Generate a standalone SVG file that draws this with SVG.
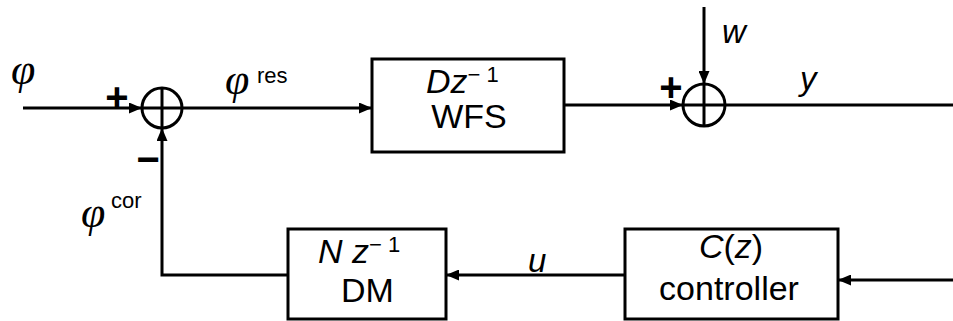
<svg xmlns="http://www.w3.org/2000/svg" width="953" height="321" viewBox="0 0 953 321">
<style>
.ln{fill:none;stroke:#000;stroke-width:3}
.bx{fill:#fff;stroke:#000;stroke-width:3}
.t{font-family:"Liberation Sans",Arial,sans-serif;fill:#000}
.g{font-family:"Liberation Serif","Times New Roman",serif;font-style:italic;fill:#000}
.i{font-style:italic}
.b{font-weight:bold}
</style>
<defs>
<marker id="ah" markerUnits="userSpaceOnUse" markerWidth="13" markerHeight="11" refX="13" refY="5.5" orient="auto">
<path d="M0,0 L13,5.5 L0,11 z" fill="#000"/>
</marker>
</defs>
<rect width="953" height="321" fill="#fff"/>
<g id="connectors">
<line class="ln" x1="23" y1="108" x2="142" y2="108" marker-end="url(#ah)"/>
<line class="ln" x1="182" y1="108" x2="372" y2="108" marker-end="url(#ah)"/>
<line class="ln" x1="564" y1="105" x2="683" y2="105" marker-end="url(#ah)"/>
<line class="ln" x1="704" y1="7" x2="704" y2="84" marker-end="url(#ah)"/>
<line class="ln" x1="725" y1="105" x2="953" y2="105"/>
<line class="ln" x1="953" y1="280" x2="838" y2="280" marker-end="url(#ah)"/>
<line class="ln" x1="625" y1="275" x2="446" y2="275" marker-end="url(#ah)"/>
<polyline class="ln" points="288,275 162,275 162,128" marker-end="url(#ah)"/>
</g>
<g id="sum1">
<circle class="ln" cx="162" cy="108" r="20"/>
<line class="ln" x1="142" y1="108" x2="182" y2="108"/>
<line class="ln" x1="162" y1="88" x2="162" y2="128"/>
</g>
<g id="sum2">
<circle class="ln" cx="704" cy="105" r="21"/>
<line class="ln" x1="683" y1="105" x2="725" y2="105"/>
<line class="ln" x1="704" y1="84" x2="704" y2="126"/>
</g>
<g id="wfs">
<rect class="bx" x="372" y="59" width="192" height="93"/>
<text class="t" x="426" y="93" font-size="34"><tspan class="i">Dz</tspan><tspan font-size="22" dy="-11">− 1</tspan></text>
<text class="t" x="469" y="128" font-size="34" text-anchor="middle">WFS</text>
</g>
<g id="dm">
<rect class="bx" x="288" y="229" width="158" height="90"/>
<text class="t" x="318" y="263" font-size="34"><tspan class="i">N z</tspan><tspan font-size="22" dy="-11">− 1</tspan></text>
<text class="t" x="367.5" y="302" font-size="34" text-anchor="middle">DM</text>
</g>
<g id="controller">
<rect class="bx" x="625" y="229" width="213" height="90"/>
<text class="t" x="731" y="258" font-size="34" text-anchor="middle"><tspan class="i">C</tspan>(<tspan class="i">z</tspan>)</text>
<text class="t" x="729" y="300" font-size="34" text-anchor="middle">controller</text>
</g>
<g id="labels">
<text class="g" x="11" y="84" font-size="44">φ</text>
<text class="g" x="225" y="94" font-size="44">φ</text>
<text class="t" x="257" y="83" font-size="22">res</text>
<text class="g" x="81" y="227" font-size="44">φ</text>
<text class="t" x="111" y="208" font-size="22">cor</text>
<text class="t b" x="117" y="111" font-size="40" text-anchor="middle">+</text>
<text class="t b" x="148" y="173" font-size="40" text-anchor="middle">−</text>
<text class="t b" x="671" y="101" font-size="40" text-anchor="middle">+</text>
<text class="t i" x="722" y="43" font-size="33">w</text>
<text class="t i" x="800" y="90" font-size="33">y</text>
<text class="t i" x="528" y="272" font-size="33">u</text>
</g>
</svg>
